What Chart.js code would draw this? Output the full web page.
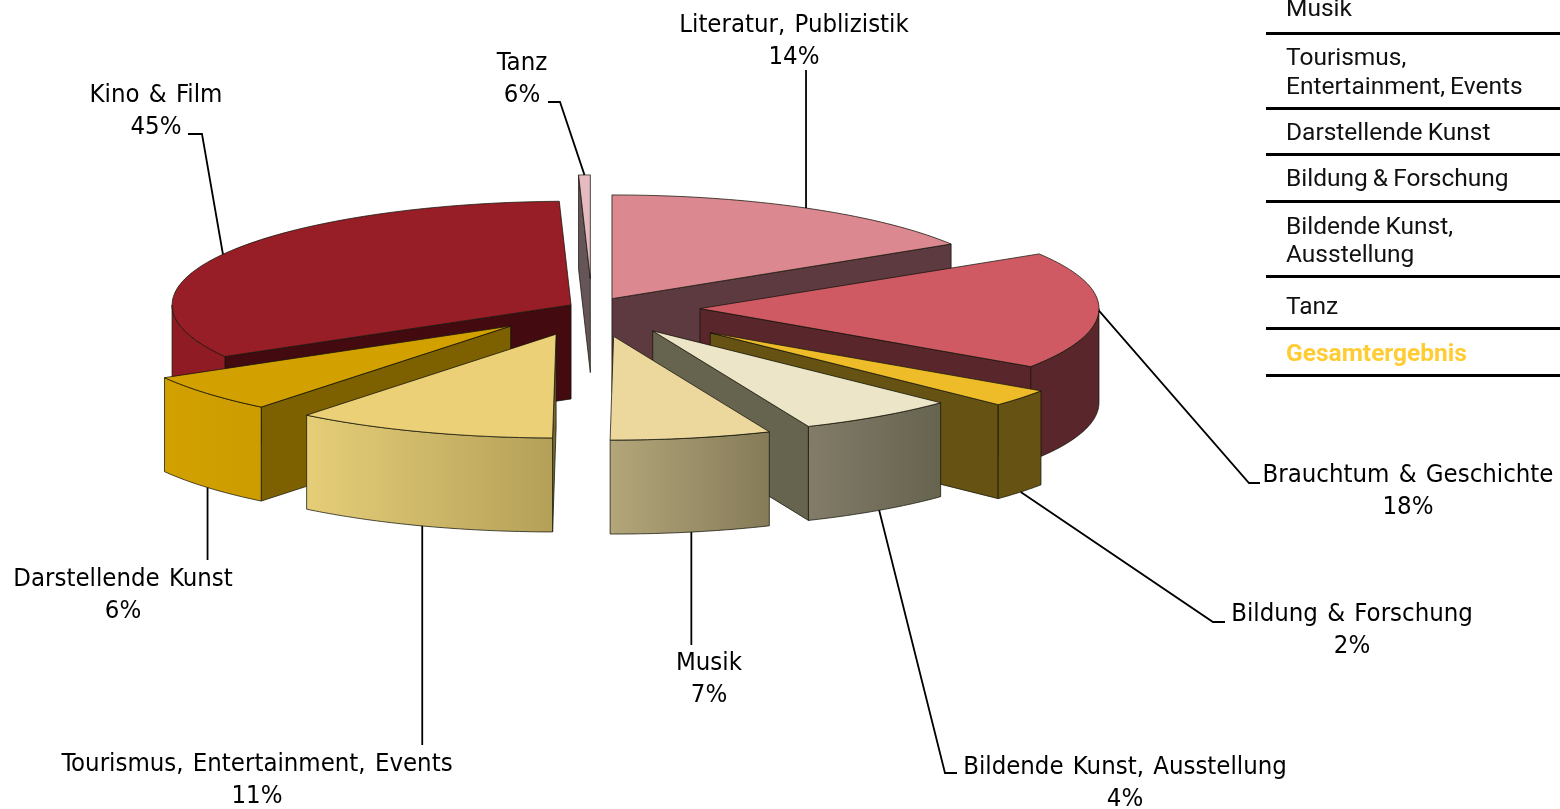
<!DOCTYPE html>
<html>
<head>
<meta charset="utf-8">
<title>Branchen</title>
<script src="https://cdn.jsdelivr.net/npm/chart.js@4"></script>
<style>
  html, body { margin: 0; padding: 0; background: #fff; overflow: hidden; }
  canvas { display: block; }
</style>
</head>
<body>
<canvas id="pieChart" width="1560" height="809"></canvas>
<script>
// Chart data, clockwise from 12 o'clock
const categories = ['Literatur, Publizistik', 'Brauchtum & Geschichte', 'Bildung & Forschung', 'Bildende Kunst, Ausstellung', 'Musik', 'Tourismus, Entertainment, Events', 'Darstellende Kunst', 'Kino & Film', 'Tanz'];
// share of the circle each slice takes in the picture (the printed labels do not add up to 100)
const sliceShares = [16.17, 18.28, 2.72, 6.45, 6.52, 10.61, 5.97, 32.81, 0.47];
const percentLabels = ['14%', '18%', '2%', '4%', '7%', '11%', '6%', '45%', '6%'];
const tableRows = [['Musik'], ['Tourismus,', 'Entertainment, Events'], ['Darstellende Kunst'], ['Bildung & Forschung'], ['Bildende Kunst,', 'Ausstellung'], ['Tanz'], ['Gesamtergebnis']];

// Slice styles
const topColors = ['#DB8890', '#CF5A63', '#EDBC28', '#EDE5C7', '#ECD89C', '#EBD077', '#D2A100', '#971D26', '#E5BAC0'];
const cutColors = ['#5C3A3F', '#58262B', '#665314', '#66634F', '#66634F', '#7A6A30', '#7D6000', '#430A10', '#665558'];
const wallLeft = ['#5C3A3F', '#58262B', '#665314', '#827C69', '#B3A67A', '#E6CE78', '#D2A100', '#8F1C24', '#665558'];
const wallRight = ['#5C3A3F', '#58262B', '#665314', '#66634F', '#857B58', '#B4A058', '#CC9C00', '#8F1C24', '#665558'];
const explode = [41, 108, 152, 107, 111, 107, 107, 24, 113];
const drawOrder = [8, 7, 0, 1, 6, 2, 3, 5, 4];

const squash = 0.26; // ellipse height / width
const depth = 94; // height of the pie in pixels

// Label layout: centre x, y of first line, then the leader elbow (null x = straight down from the slice)
const labelX = [794, 1408, 1352, 1125, 709, 257, 123, 156, 522];
const labelY = [25, 475, 614, 767, 663, 764, 579, 95, 63];
const leaderElbow = [[null, 70], [1249, 483], [1213, 622], [945, 773], [null, 645], [null, 745], [null, 560], [202, 134], [560, 102]];
const leaderStub = [null, [1260, 483], [1225, 622], [957, 773], null, null, null, [188, 134], [548, 102]];
const leaderOnBase = [false, false, true, true, true, true, true, false, false];

function slicePoint(arc, i, angle, radius, z) {
  let mid = (arc.startAngle + arc.endAngle) / 2;
  return {
    x: arc.x + explode[i] * Math.cos(mid) + radius * Math.cos(angle),
    y: arc.y + squash * (explode[i] * Math.sin(mid) + radius * Math.sin(angle)) + z
  };
}

function drawQuad(ctx, a, b, color) {
  ctx.beginPath();
  ctx.moveTo(a.x, a.y);
  ctx.lineTo(b.x, b.y);
  ctx.lineTo(b.x, b.y + depth);
  ctx.lineTo(a.x, a.y + depth);
  ctx.closePath();
  ctx.fillStyle = color;
  ctx.fill();
  ctx.stroke();
}

function drawSlice(ctx, arc, i) {
  let r = arc.outerRadius;
  let apex = slicePoint(arc, i, 0, 0, 0);
  let startP = slicePoint(arc, i, arc.startAngle, r, 0);
  let endP = slicePoint(arc, i, arc.endAngle, r, 0);

  ctx.lineWidth = 1;
  ctx.strokeStyle = 'rgba(20,20,10,0.75)';

  // cut faces, only the ones turned to the viewer
  if (Math.cos(arc.startAngle) < 0) drawQuad(ctx, apex, startP, cutColors[i]);
  if (Math.cos(arc.endAngle) > 0) drawQuad(ctx, apex, endP, cutColors[i]);

  // outer wall, front half of the ellipse only
  let from = Math.max(arc.startAngle, 0);
  let to = Math.min(arc.endAngle, Math.PI);
  if (to > from) {
    let a = slicePoint(arc, i, from, r, 0);
    let b = slicePoint(arc, i, to, r, 0);
    let left = Math.min(a.x, b.x);
    let right = Math.max(a.x, b.x);
    let grad = ctx.createLinearGradient(left, 0, right, 0);
    grad.addColorStop(0, wallLeft[i]);
    grad.addColorStop(1, wallRight[i]);
    ctx.beginPath();
    let steps = 48;
    for (let s = 0; s <= steps; s++) {
      let p = slicePoint(arc, i, from + (to - from) * s / steps, r, 0);
      if (s === 0) ctx.moveTo(p.x, p.y); else ctx.lineTo(p.x, p.y);
    }
    for (let s = steps; s >= 0; s--) {
      let p = slicePoint(arc, i, from + (to - from) * s / steps, r, depth);
      ctx.lineTo(p.x, p.y);
    }
    ctx.closePath();
    ctx.fillStyle = grad;
    ctx.fill();
    ctx.stroke();
  }

  // top face: the library's own arc, squashed into an ellipse
  let mid = (arc.startAngle + arc.endAngle) / 2;
  ctx.save();
  ctx.translate(arc.x + explode[i] * Math.cos(mid), arc.y + squash * explode[i] * Math.sin(mid));
  ctx.scale(1, squash);
  ctx.translate(-arc.x, -arc.y);
  arc.draw(ctx);
  ctx.restore();

  // outline of the top face, drawn unscaled so the line stays even
  ctx.beginPath();
  ctx.moveTo(apex.x, apex.y);
  for (let s = 0; s <= 48; s++) {
    let p = slicePoint(arc, i, arc.startAngle + (arc.endAngle - arc.startAngle) * s / 48, r, 0);
    ctx.lineTo(p.x, p.y);
  }
  ctx.closePath();
  ctx.stroke();
}

function drawLabels(chart) {
  let ctx = chart.ctx;
  let arcs = chart.getDatasetMeta(0).data;
  ctx.save();

  // leader lines start on the slice's outer edge at its middle angle
  ctx.strokeStyle = '#000';
  ctx.lineWidth = 1.8;
  arcs.forEach((arc, i) => {
    let mid = (arc.startAngle + arc.endAngle) / 2;
    let p = slicePoint(arc, i, mid, arc.outerRadius, leaderOnBase[i] ? depth : 0);
    let elbow = leaderElbow[i];
    ctx.beginPath();
    ctx.moveTo(p.x, p.y);
    ctx.lineTo(elbow[0] === null ? p.x : elbow[0], elbow[1]);
    if (leaderStub[i]) ctx.lineTo(leaderStub[i][0], leaderStub[i][1]);
    ctx.stroke();
  });

  ctx.fillStyle = '#000';
  ctx.textAlign = 'center';
  ctx.textBaseline = 'middle';
  ctx.font = '25.5px "DejaVu Sans Condensed", "DejaVu Sans"';
  ctx.wordSpacing = '2px';
  categories.forEach((name, i) => {
    ctx.fillText(name, labelX[i], labelY[i]);
    ctx.fillText(percentLabels[i], labelX[i], labelY[i] + 32);
  });
  ctx.restore();
}

function drawTable(chart) {
  let ctx = chart.ctx;
  ctx.save();
  ctx.textAlign = 'left';
  ctx.textBaseline = 'middle';
  ctx.wordSpacing = '-1px';
  let textY = [[10], [59, 88], [134], [180], [228, 256], [308], [355]];
  let ruleY = [33, 108, 154, 201, 276, 328, 375];
  tableRows.forEach((lines, r) => {
    let last = r === tableRows.length - 1;
    ctx.font = (last ? 'bold ' : '') + '24.5px Roboto';
    ctx.fillStyle = last ? '#FFCC33' : '#111';
    lines.forEach((line, l) => {
      ctx.fillText(line, 1286, textY[r][l]);
    });
    ctx.fillStyle = '#000';
    ctx.fillRect(1266, ruleY[r] - 1, 294, 3);
  });
  ctx.restore();
}

const pie3d = {
  id: 'pie3d',
  beforeDatasetDraw(chart) {
    let arcs = chart.getDatasetMeta(0).data;
    drawOrder.forEach(i => drawSlice(chart.ctx, arcs[i], i));
    return false; // the default flat pie is not wanted
  },
  afterDraw(chart) {
    drawLabels(chart);
    drawTable(chart);
  }
};

new Chart(document.getElementById('pieChart').getContext('2d'), {
  type: 'pie',
  data: {
    labels: categories,
    datasets: [{
      data: sliceShares,
      backgroundColor: topColors,
      borderWidth: 0
    }]
  },
  options: {
    responsive: false,
    animation: false,
    radius: 399,
    layout: { padding: { right: 376, bottom: 193 } }, // puts the pie centre at 592,308
    plugins: { legend: { display: false }, tooltip: { enabled: false } }
  },
  plugins: [pie3d]
});
</script>
</body>
</html>
